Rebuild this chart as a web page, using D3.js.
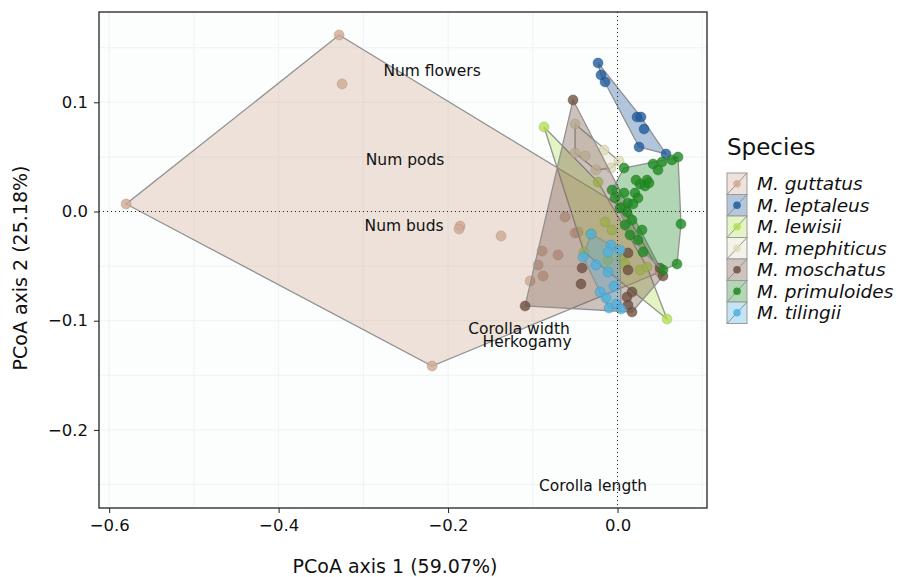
<!DOCTYPE html>
<html>
<head>
<meta charset="utf-8">
<script src="https://cdn.jsdelivr.net/npm/d3@7"></script>
<style>
  body { margin: 0; background: #fff; }
  text { font-family: "DejaVu Sans", sans-serif; fill: #111; }
</style>
</head>
<body>
<svg id="chart" width="898" height="577"></svg>
<script>
// species and their colours
const species = ["M. guttatus", "M. leptaleus", "M. lewisii", "M. mephiticus", "M. moschatus", "M. primuloides", "M. tilingii"];
const colors = ["#cfa993", "#1f5b9c", "#b3de52", "#dedbb8", "#6e5040", "#1f8a22", "#4fb0df"];

// PCoA scores [axis1, axis2] per species
const guttatus = [[-0.3286, 0.1616], [-0.3251, 0.1168], [-0.5800, 0.0069], [-0.2189, -0.1415], [-0.1858, -0.0133],
  [-0.1870, -0.0160], [-0.1375, -0.0224], [-0.0619, -0.0050], [-0.0501, -0.0197], [-0.0466, -0.0188],
  [-0.0891, -0.0362], [-0.0702, -0.0398], [-0.0938, -0.0490], [-0.0879, -0.0591], [-0.1032, -0.0636],
  [0.0053, 0.0041], [0.0501, -0.0554]];
const leptaleus = [[-0.0230, 0.1360], [-0.0195, 0.1250], [-0.0147, 0.1186], [0.0230, 0.0865], [0.0277, 0.0865],
  [0.0313, 0.0755], [0.0254, 0.0591], [0.0572, 0.0527]];
const lewisii = [[-0.0867, 0.0774], [-0.0230, 0.0270], [-0.0065, -0.0169], [-0.0313, -0.0206], [-0.0395, -0.0371],
  [-0.0112, -0.0444], [0.0041, -0.0435], [0.0088, -0.0481], [0.0265, -0.0536], [0.0348, -0.0508],
  [0.0584, -0.0985], [-0.0147, -0.0096]];
const mephiticus = [[-0.0501, 0.0801], [-0.0501, 0.0536], [-0.0383, 0.0508], [-0.0159, 0.0563], [0.0018, 0.0462],
  [-0.0077, 0.0398], [-0.0254, 0.0380]];
const moschatus = [[-0.0525, 0.1021], [0.0537, -0.0591], [0.0501, -0.0517], [0.0171, -0.0920], [0.0124, -0.0856],
  [0.0112, -0.0783], [-0.1091, -0.0865], [-0.0419, -0.0517], [-0.0431, -0.0664], [0.0124, -0.0380],
  [0.0124, -0.0536], [0.0171, -0.0737]];
const primuloides = [[0.0077, 0.0398], [0.0419, 0.0435], [0.0525, 0.0453], [0.0643, 0.0472], [0.0714, 0.0499],
  [0.0478, 0.0380], [0.0348, 0.0288], [0.0265, 0.0252], [0.0324, 0.0234], [0.0372, 0.0261],
  [0.0077, 0.0169], [0.0206, 0.0169], [0.0242, 0.0124], [0.0124, 0.0078], [0.0183, 0.0069],
  [-0.0065, 0.0197], [-0.0029, 0.0124], [0.0112, -0.0005], [0.0171, -0.0078], [0.0289, -0.0169],
  [0.0242, -0.0261], [0.0301, -0.0371], [0.0749, -0.0114], [0.0702, -0.0481], [0.0537, -0.0536],
  [0.0029, 0.0032], [0.0088, -0.0124], [0.0147, -0.0215], [0.0218, 0.0288]];
const tilingii = [[-0.0313, -0.0206], [-0.0077, -0.0307], [-0.0112, -0.0371], [-0.0112, -0.0554], [-0.0407, -0.0417],
  [-0.0206, -0.0737], [-0.0136, -0.0792], [-0.0100, -0.0884], [-0.0018, -0.0847], [0.0041, -0.0893],
  [-0.0041, -0.0682], [0.0029, -0.0353], [-0.0254, -0.0490]];
const scores = [guttatus, leptaleus, lewisii, mephiticus, moschatus, primuloides, tilingii];

// trait loadings labels
const traitNames = ["Num flowers", "Num pods", "Num buds", "Corolla width", "Herkogamy", "Corolla length"];
const traitX = [-0.2189, -0.2507, -0.2519, -0.1162, -0.1068, -0.0289];
const traitY = [0.1287, 0.0472, -0.0133, -0.1076, -0.1195, -0.2514];

const xTicks = [-0.6, -0.4, -0.2, 0.0];
const yTicks = [0.1, 0.0, -0.1, -0.2];
const xMinor = [-0.5, -0.3, -0.1, 0.1];
const yMinor = [0.15, 0.05, -0.05, -0.15, -0.25];

const panel = { left: 99, right: 707, top: 12, bottom: 508 };

const svg = d3.select("#chart");

const x = d3.scaleLinear().domain([-0.612, 0.1056]).range([panel.left, panel.right]);
const y = d3.scaleLinear().domain([-0.2715, 0.1827]).range([panel.bottom, panel.top]);

// panel background + faint grid
svg.append("rect")
  .attr("x", panel.left).attr("y", panel.top)
  .attr("width", panel.right - panel.left).attr("height", panel.bottom - panel.top)
  .attr("fill", "#fcfdfd");

const grid = svg.append("g").attr("stroke", "#eff3f3").attr("stroke-width", 1);
grid.selectAll(".gx")
  .data(xTicks.concat(xMinor))
  .enter().append("line")
  .attr("x1", d => x(d)).attr("x2", d => x(d))
  .attr("y1", panel.top).attr("y2", panel.bottom);
grid.selectAll(".gy")
  .data(yTicks.concat(yMinor))
  .enter().append("line")
  .attr("y1", d => y(d)).attr("y2", d => y(d))
  .attr("x1", panel.left).attr("x2", panel.right);

// hulls and points, one species at a time
scores.forEach((pts, i) => {
  const px = pts.map(p => [x(p[0]), y(p[1])]);
  const hull = d3.polygonHull(px);
  svg.append("path")
    .attr("d", "M" + hull.join("L") + "Z")
    .attr("fill", colors[i])
    .attr("fill-opacity", 0.34)
    .attr("stroke", "#929292")
    .attr("stroke-width", 1.3);

  svg.append("g").selectAll("circle")
    .data(pts)
    .enter().append("circle")
    .attr("cx", d => x(d[0]))
    .attr("cy", d => y(d[1]))
    .attr("r", 5)
    .attr("fill", colors[i])
    .attr("fill-opacity", 0.8)
    .attr("stroke", d3.color(colors[i]).darker(0.7))
    .attr("stroke-opacity", 0.45)
    .attr("stroke-width", 0.8);
});

// dotted reference lines at zero
svg.append("line")
  .attr("x1", x(0)).attr("x2", x(0)).attr("y1", panel.top).attr("y2", panel.bottom)
  .attr("stroke", "#222").attr("stroke-dasharray", "1,3").attr("stroke-width", 1);
svg.append("line")
  .attr("y1", y(0)).attr("y2", y(0)).attr("x1", panel.left).attr("x2", panel.right)
  .attr("stroke", "#222").attr("stroke-dasharray", "1,3").attr("stroke-width", 1);

// trait labels
svg.append("g").selectAll("text")
  .data(traitNames)
  .enter().append("text")
  .attr("x", (d, i) => x(traitX[i]))
  .attr("y", (d, i) => y(traitY[i]))
  .attr("dy", "0.35em")
  .attr("text-anchor", "middle")
  .style("font-size", "15.5px")
  .text(d => d);

// frame
svg.append("rect")
  .attr("x", panel.left).attr("y", panel.top)
  .attr("width", panel.right - panel.left).attr("height", panel.bottom - panel.top)
  .attr("fill", "none").attr("stroke", "#222").attr("stroke-width", 1.3);

// axes
const xAxis = svg.append("g")
  .attr("transform", "translate(0," + panel.bottom + ")")
  .call(d3.axisBottom(x).tickValues(xTicks).tickFormat(d3.format(".1f")).tickSize(5).tickPadding(6));
const yAxis = svg.append("g")
  .attr("transform", "translate(" + panel.left + ",0)")
  .call(d3.axisLeft(y).tickValues(yTicks).tickFormat(d3.format(".1f")).tickSize(5).tickPadding(6));
[xAxis, yAxis].forEach(a => {
  a.select(".domain").remove();
  a.selectAll("line").attr("stroke", "#222");
  a.selectAll("text").style("font-size", "16.5px").attr("fill", "#111");
});

// axis titles
svg.append("text")
  .attr("x", (panel.left + panel.right) / 2 - 8)
  .attr("y", 573)
  .attr("text-anchor", "middle")
  .style("font-size", "19px")
  .text("PCoA axis 1 (59.07%)");
svg.append("text")
  .attr("transform", "translate(27," + 268 + ") rotate(-90)")
  .attr("text-anchor", "middle")
  .style("font-size", "19px")
  .text("PCoA axis 2 (25.18%)");

// legend
const legend = svg.append("g").attr("transform", "translate(727,0)");
legend.append("text")
  .attr("x", 0).attr("y", 155)
  .style("font-size", "23px")
  .text("Species");

const key = legend.selectAll(".key")
  .data(species)
  .enter().append("g")
  .attr("transform", (d, i) => "translate(0," + (173 + i * 21.5) + ")");
key.append("rect")
  .attr("width", 20).attr("height", 21.5)
  .attr("fill", "#fff");
key.append("rect")
  .attr("width", 20).attr("height", 21.5)
  .attr("fill", (d, i) => colors[i])
  .attr("fill-opacity", 0.34)
  .attr("stroke", "#9a9a9a").attr("stroke-width", 1);
key.append("line")
  .attr("x1", 0).attr("y1", 21.5).attr("x2", 20).attr("y2", 0)
  .attr("stroke", "#929292").attr("stroke-width", 1);
key.append("circle")
  .attr("cx", 10).attr("cy", 10.75).attr("r", 3.8)
  .attr("fill", (d, i) => colors[i])
  .attr("fill-opacity", 0.85);
key.append("text")
  .attr("x", 30).attr("y", 10.75)
  .attr("dy", "0.36em")
  .style("font-size", "18.5px")
  .style("font-style", "italic")
  .text(d => d);
</script>
</body>
</html>
